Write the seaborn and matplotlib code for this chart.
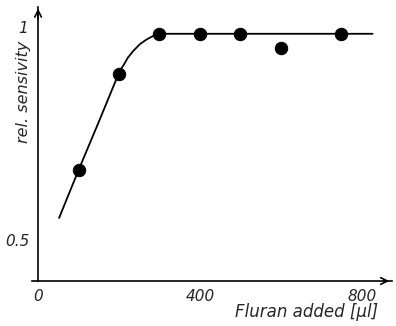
import matplotlib
matplotlib.use("Agg")
import matplotlib.pyplot as plt
import matplotlib.transforms as mtrans
import seaborn as sns
import pandas as pd

# measured points
fluran = [100, 200, 300, 400, 500, 600, 750]
sensitivity = [0.669, 0.903, 1.0, 1.0, 1.0, 0.966, 1.0]

# fitted curve
curve_x = [52, 100, 150, 202, 212, 222, 235, 252, 268, 285, 301, 500, 827]
curve_y = [0.553, 0.669, 0.786, 0.91, 0.925, 0.942, 0.958, 0.975, 0.986, 0.995, 1.0, 1.0, 1.0]

x_ticks = [0, 100, 200, 300, 400, 500, 600, 700, 800]
x_ticklabels = ["0", "", "", "", "400", "", "", "", "800"]
y_ticks = [0.5, 0.75, 1.0]
y_ticklabels = ["0.5", "", "1"]

sns.set_style("white")
plt.rcParams["font.family"] = ["DejaVu Sans"]

fig = plt.figure(figsize=(3.96, 3.26), dpi=100)
ax = fig.add_axes([32 / 396, 45 / 326, 360 / 396, 274 / 326])

pts = pd.DataFrame({"x": fluran, "y": sensitivity})
crv = pd.DataFrame({"x": curve_x, "y": curve_y})
sns.lineplot(data=crv, x="x", y="y", sort=False, color="black", lw=1.3, ax=ax)
sns.scatterplot(data=pts, x="x", y="y", color="black", s=80, edgecolor="black", zorder=3, ax=ax)

ax.set_xlim(-15, 875)
ax.set_ylim(0.40, 1.065)

for s in ["top", "right"]:
    ax.spines[s].set_visible(False)
ax.spines["left"].set_position(("data", 0))
for s in ["left", "bottom"]:
    ax.spines[s].set_color("black")
    ax.spines[s].set_linewidth(1.2)

ax.set_xticks(x_ticks)
ax.set_xticklabels(x_ticklabels, fontsize=11, style="italic", fontweight="light")
ax.set_yticks(y_ticks)
ax.set_yticklabels(y_ticklabels, fontsize=11, style="italic", fontweight="light")
ax.tick_params(axis="both", direction="out", length=4, width=1, color="black", pad=2)
ylabs = ax.get_yticklabels()
ylabs[2].set_va("bottom")
ylabs[2].set_transform(ylabs[2].get_transform()
                       + mtrans.ScaledTranslation(-0.015, -0.025, fig.dpi_scale_trans))

ax.set_xlabel("Fluran added [µl]", fontsize=12, style="italic", fontweight="light")
ax.xaxis.set_label_coords(0.764, -0.082)
ax.set_ylabel("rel. sensivity", fontsize=11.5, style="italic", fontweight="light")
ax.yaxis.set_label_coords(-0.004, 0.69)

# arrow heads
ax.annotate("", xy=(1.0, 0.0), xytext=(0.97, 0.0), xycoords="axes fraction",
            arrowprops=dict(arrowstyle="->", color="black", lw=1.2, mutation_scale=12))
ax.annotate("", xy=(0, 1.068), xytext=(0, 1.03), xycoords="data",
            arrowprops=dict(arrowstyle="->", color="black", lw=1.2, mutation_scale=12),
            annotation_clip=False)

fig.savefig("out.png", dpi=100)
